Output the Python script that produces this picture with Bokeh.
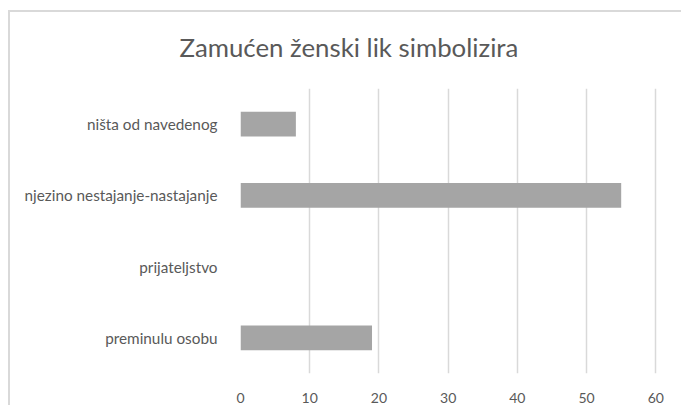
from bokeh.plotting import figure
from bokeh.models import Range1d, FactorRange, ColumnDataSource, FixedTicker, Title
from bokeh.embed import file_html
from bokeh.resources import INLINE

categories = ["preminulu osobu", "prijateljstvo", "njezino nestajanje-nastajanje", "ništa od navedenog"]
values = [19, 0, 55, 8]
x_ticks = [0, 10, 20, 30, 40, 50, 60]
title_text = "Zamućen ženski lik simbolizira"

FONT = "Lato"
TXT = "#595959"

src = ColumnDataSource(dict(cat=categories, val=values))

p = figure(
    y_range=FactorRange(*categories, range_padding=0),
    x_range=Range1d(0, 60.39),
    frame_width=418, frame_height=285,
    min_border_left=240, min_border_right=23,
    min_border_top=88, min_border_bottom=31,
    output_backend="svg", toolbar_location=None,
)

p.hbar(y="cat", right="val", left=0, height=0.35, source=src,
       fill_color="#a5a5a5", line_color=None)

t = Title(text=title_text, text_font=FONT, text_font_size="25.8px",
          text_color=TXT, text_font_style="normal", align="left", offset=-61,
          vertical_align="middle", standoff=52)
p.add_layout(t, "above")
p.title.visible = False

p.outline_line_color = None
p.background_fill_color = None
p.border_fill_color = None

p.xgrid.ticker = FixedTicker(ticks=x_ticks)
p.xgrid.grid_line_color = "#d9d9d9"
p.xgrid.grid_line_width = 1.5
p.ygrid.grid_line_color = None

p.xaxis.ticker = FixedTicker(ticks=x_ticks)
p.xaxis.axis_line_color = None
p.xaxis.major_tick_line_color = None
p.xaxis.minor_tick_line_color = None
p.xaxis.major_label_text_font = FONT
p.xaxis.major_label_text_font_size = "14px"
p.xaxis.major_label_text_color = TXT
p.xaxis.major_label_standoff = 13

p.yaxis.axis_line_color = None
p.yaxis.major_tick_line_color = None
p.yaxis.minor_tick_line_color = None
p.yaxis.major_label_text_font = FONT
p.yaxis.major_label_text_font_size = "15.3px"
p.yaxis.major_label_text_color = TXT
p.yaxis.major_label_standoff = 17

p.styles = {"box-shadow": "inset 8px 10px 0 white, inset 10px 12px 0 #d9d9d9"}

open("out.html", "w").write(file_html(p, INLINE))
